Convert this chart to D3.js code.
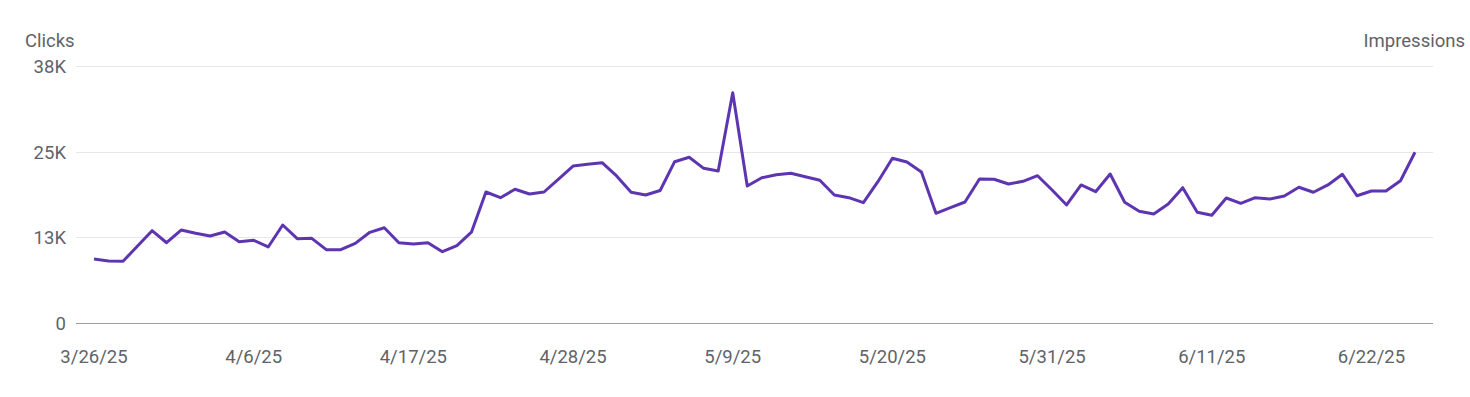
<!DOCTYPE html>
<html>
<head>
<meta charset="utf-8">
<script src="https://cdn.jsdelivr.net/npm/d3@7"></script>
<style>
  html, body { margin: 0; padding: 0; background: #fff; }
  svg text { font-family: Roboto, "Noto Sans", sans-serif; }
</style>
</head>
<body>
<div id="field"></div>
<script>
'use strict';

// daily clicks, 3/26/25 .. 6/25/25
const startDate = '2025-03-26';
const clicks = [
  9460, 9170, 9120, 11390, 13650, 11870, 13750, 13260, 12860, 13450,
  12020, 12230, 11240, 14490, 12470, 12520, 10840, 10840, 11780, 13410,
  14090, 11870, 11680, 11870, 10540, 11430, 13430, 19370, 18530, 19770,
  19070, 19370, 21290, 23210, 23470, 23700, 21740, 19330, 18930, 19590,
  23850, 24500, 22870, 22480, 34050, 20260, 21480, 21930, 22130, 21630,
  21100, 18930, 18530, 17790, 20890, 24350, 23810, 22330, 16220, 17050,
  17890, 21290, 21250, 20550, 20950, 21780, 19670, 17450, 20410, 19410,
  22030, 17850, 16520, 16120, 17600, 20010, 16370, 15930, 18480, 17700,
  18530, 18340, 18780, 20070, 19330, 20410, 21990, 18820, 19520, 19520,
  21040, 25240
];
const yTicks = [0, 38000 / 3, 38000 * 2 / 3, 38000];
const yTickLabels = ['0', '13K', '25K', '38K'];
const xTickEvery = 11;

const w = 1470, h = 397;
const fs = 18.5, textColor = '#5f6368';
const parse = d3.timeParse('%Y-%m-%d');
const day0 = parse(startDate);
const data = clicks.map(function(v, i){ return { date: d3.timeDay.offset(day0, i), v: v }; });

const gridLeft = 76, gridRight = 1433;
const Xscale = d3.scaleTime().domain(d3.extent(data, function(d){ return d.date; })).range([94, 1415]);
const Yscale = d3.scaleLinear().domain([0, 38000]).range([323, 66]);

const svg = d3.select('#field').append('svg').attr('width', w).attr('height', h);

// grid lines
svg.selectAll('line.grid').data(yTicks).enter().append('line')
  .attr('class', 'grid')
  .attr('x1', gridLeft).attr('x2', gridRight)
  .attr('y1', function(d){ return Math.round(Yscale(d)) + 0.5; })
  .attr('y2', function(d){ return Math.round(Yscale(d)) + 0.5; })
  .attr('stroke', function(d){ return d === 0 ? '#9e9e9e' : '#e8e8e8'; })
  .attr('stroke-width', 1);

// y labels
svg.selectAll('text.ylab').data(yTicks).enter().append('text')
  .attr('class', 'ylab')
  .attr('x', 66)
  .attr('y', function(d){ return Yscale(d) + 7; })
  .attr('text-anchor', 'end')
  .attr('font-size', fs)
  .attr('fill', textColor)
  .text(function(d, i){ return yTickLabels[i]; });

// x labels
const xTicks = data.filter(function(d, i){ return i % xTickEvery === 0; }).map(function(d){ return d.date; });
const fmt = function(d){ return (d.getMonth() + 1) + '/' + d.getDate() + '/' + String(d.getFullYear()).slice(2); };
svg.selectAll('text.xlab').data(xTicks).enter().append('text')
  .attr('class', 'xlab')
  .attr('x', function(d){ return Xscale(d); })
  .attr('y', 363)
  .attr('text-anchor', 'middle')
  .attr('font-size', fs)
  .attr('fill', textColor)
  .text(fmt);

// axis titles
svg.append('text').attr('x', 25).attr('y', 47).attr('font-size', fs).attr('fill', textColor).text('Clicks');
svg.append('text').attr('x', 1465).attr('y', 47).attr('text-anchor', 'end').attr('font-size', fs).attr('fill', textColor).text('Impressions');

// line
const line = d3.line().x(function(d){ return Xscale(d.date); }).y(function(d){ return Yscale(d.v); });
svg.append('path').datum(data)
  .attr('d', line)
  .attr('fill', 'none')
  .attr('stroke', '#5e35b1')
  .attr('stroke-width', 3)
  .attr('stroke-linejoin', 'round');
</script>
</body>
</html>
